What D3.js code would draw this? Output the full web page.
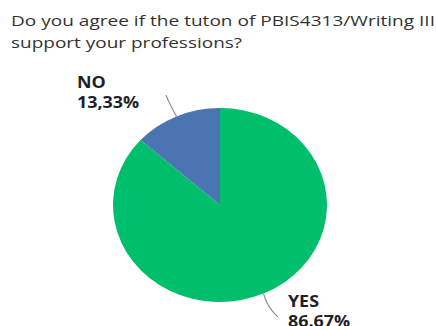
<!DOCTYPE html>
<html>
<head>
<meta charset="utf-8">
<script src="https://cdn.jsdelivr.net/npm/d3@7"></script>
<style>
  body { margin: 0; background: #fff; }
  text { font-family: "Open Sans", "Noto Sans", sans-serif; }
</style>
</head>
<body>
<div id="chart"></div>
<script>
// chart data
const titleLines = ["Do you agree if the tuton of PBIS4313/Writing III", "support your professions?"];
const categories = ["YES", "NO"];
const values = [86.67, 13.33];
const valueLabels = ["86.67%", "13,33%"];
const colors = ["#00bf6c", "#4a75b0"];

const width = 436, height = 326;
const cx = 220, cy = 205;
const rx = 107, ry = 97;
// rendered widths of the title lines (the original font is wider)
const titleWidths = [424, 231];

const svg = d3.select("#chart").append("svg")
    .attr("width", width)
    .attr("height", height);

// title
svg.selectAll(".title")
    .data(titleLines)
    .join("text")
    .attr("class", "title")
    .attr("x", 11)
    .attr("y", (d, i) => 26 + i * 21.5)
    .attr("fill", "#333")
    .attr("textLength", (d, i) => titleWidths[i])
    .attr("lengthAdjust", "spacingAndGlyphs")
    .style("font-size", "15px")
    .text(d => d);

const pie = d3.pie().sort(null).value(d => d)(values);
const arc = d3.arc().innerRadius(0).outerRadius(ry);

// pie is slightly wider than tall in the picture
const pieG = svg.append("g")
    .attr("transform", `translate(${cx},${cy}) scale(${rx / ry},1)`);

pieG.selectAll("path")
    .data(pie)
    .join("path")
    .attr("d", arc)
    .attr("fill", (d, i) => colors[i]);

// leader lines + labels
function pt(angle, k) {
    return [cx + rx * k * Math.sin(angle), cy - ry * k * Math.cos(angle)];
}

const labelOffsets = [[14, 12], [-89, 13]];

pie.forEach((d, i) => {
    const mid = (d.startAngle + d.endAngle) / 2;
    const p0 = pt(mid, 1.0);
    const p1 = pt(mid, 1.16);
    const p2 = pt(mid, 1.24);
    const bend = i === 0 ? [p2[0] + 4, p2[1] + 2] : p2;
    svg.append("path")
        .attr("d", `M${p0[0]},${p0[1]} Q${p1[0] - (i === 0 ? 3 : 1)},${p1[1]} ${bend[0]},${bend[1]}`)
        .attr("fill", "none")
        .attr("stroke", "#8c8c8c")
        .attr("stroke-width", 1.2);

    const lx = p2[0] + labelOffsets[i][0];
    const ly = p2[1] + labelOffsets[i][1];
    const g = svg.append("g")
        .attr("transform", `translate(${lx},${ly}) scale(1.12,1)`)
        .attr("fill", "#1f1f2a")
        .style("font-size", "16px")
        .style("font-weight", "bold");
    g.append("text").attr("y", -20).text(categories[i]);
    g.append("text").attr("y", 0).text(valueLabels[i]);
});
</script>
</body>
</html>
